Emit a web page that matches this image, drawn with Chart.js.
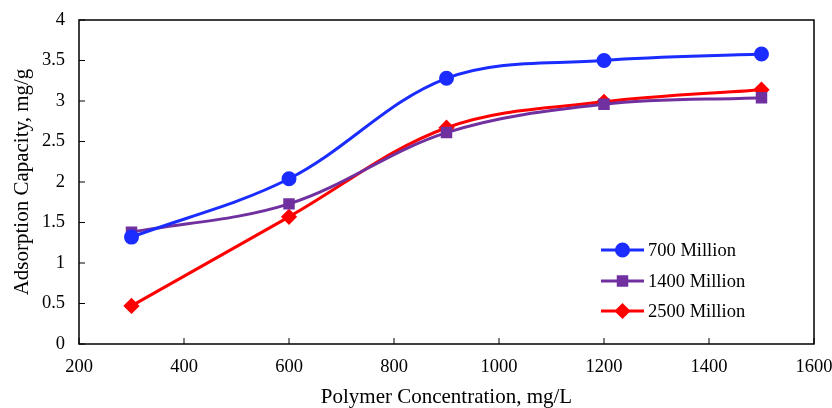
<!DOCTYPE html>
<html>
<head>
<meta charset="utf-8">
<script src="https://cdn.jsdelivr.net/npm/chart.js@4/dist/chart.umd.min.js"></script>
<style>
  html, body { margin: 0; padding: 0; background: #fff; }
  #wrap { width: 832px; height: 408px; }
</style>
</head>
<body>
<div id="wrap"><canvas id="adsChart"></canvas></div>
<script>
// concentrations (mg/L)
const concentrations = [300, 600, 900, 1200, 1500];
// adsorption capacity (mg/g) per polymer molecular weight
const mw700 = [1.32, 2.04, 3.28, 3.50, 3.58];
const mw1400 = [1.38, 1.73, 2.61, 2.96, 3.04];
const mw2500 = [0.47, 1.57, 2.67, 2.99, 3.14];
const seriesNames = ["700 Million", "1400 Million", "2500 Million"];

const FONT = "'Liberation Serif', 'Times New Roman', serif";

function toPoints(ys) {
  return concentrations.map((x, i) => ({ x: x, y: ys[i] }));
}

// box around plot + inward tick marks
const frameAndTicks = {
  id: "frameAndTicks",
  afterDraw(chart) {
    const { ctx, chartArea: a, scales } = chart;
    ctx.save();
    ctx.strokeStyle = "#000";
    ctx.lineWidth = 1.5;
    ctx.strokeRect(a.left, a.top, a.right - a.left, a.bottom - a.top);
    ctx.lineWidth = 1;
    ctx.beginPath();
    scales.x.ticks.forEach((t) => {
      const px = scales.x.getPixelForValue(t.value);
      ctx.moveTo(px, a.bottom);
      ctx.lineTo(px, a.bottom - 6);
    });
    scales.y.ticks.forEach((t) => {
      const py = scales.y.getPixelForValue(t.value);
      ctx.moveTo(a.left, py);
      ctx.lineTo(a.left + 6, py);
    });
    ctx.stroke();
    ctx.restore();
  },
};

// legend drawn inside the plot, lower right
const insideLegend = {
  id: "insideLegend",
  afterDraw(chart) {
    const { ctx } = chart;
    const x0 = 601, x1 = 644, tx = 648;
    const rows = [250, 281, 311];
    ctx.save();
    chart.data.datasets.forEach((ds, i) => {
      const y = rows[i];
      ctx.strokeStyle = ds.borderColor;
      ctx.lineWidth = 3;
      ctx.beginPath();
      ctx.moveTo(x0, y);
      ctx.lineTo(x1, y);
      ctx.stroke();
      Chart.helpers.drawPoint(ctx, {
        pointStyle: ds.pointStyle,
        radius: ds.pointRadius,
        borderWidth: 1,
      }, (x0 + x1) / 2, y);
      ctx.fillStyle = ds.pointBackgroundColor;
      ctx.fill();
      ctx.fillStyle = "#000";
      ctx.font = "18.5px " + FONT;
      ctx.textBaseline = "middle";
      ctx.fillText(ds.label, tx, y + 1);
    });
    ctx.restore();
  },
};

function makeSet(label, ys, color, style, r) {
  return {
    label: label,
    data: toPoints(ys),
    borderColor: color,
    backgroundColor: color,
    pointBackgroundColor: color,
    pointBorderColor: color,
    pointStyle: style,
    pointRadius: r,
    borderWidth: 3,
    tension: 0.35,
  };
}

const plain = (v) => String(v);

window.onload = () => {
  const ctx = document.getElementById("adsChart").getContext("2d");
  new Chart(ctx, {
    type: "line",
    data: {
      datasets: [
        makeSet(seriesNames[0], mw700, "#1a2cff", "circle", 6),
        makeSet(seriesNames[1], mw1400, "#7030a0", "rect", 6),
        makeSet(seriesNames[2], mw2500, "#ff0000", "rectRot", 6),
      ],
    },
    options: {
      responsive: true,
      maintainAspectRatio: false,
      animation: false,
      layout: { padding: { left: 0, right: 18, top: 20, bottom: 0 } },
      plugins: {
        legend: { display: false },
        tooltip: { enabled: false },
      },
      scales: {
        x: {
          type: "linear",
          min: 200,
          max: 1600,
          ticks: { stepSize: 200, callback: plain, color: "#000", font: { family: FONT, size: 18.5 }, padding: 12 },
          grid: { display: false, drawTicks: false },
          border: { display: false },
          title: {
            display: true,
            text: "Polymer Concentration, mg/L",
            color: "#000",
            font: { family: FONT, size: 21 },
            padding: { top: 0, bottom: -2 },
          },
          afterFit(s) {
            s.height = 64;
            s.paddingLeft = 0;
            s.paddingRight = 0;
          },
        },
        y: {
          min: 0,
          max: 4,
          ticks: { stepSize: 0.5, callback: plain, color: "#000", font: { family: FONT, size: 18.5 }, padding: 14 },
          grid: { display: false, drawTicks: false },
          border: { display: false },
          title: {
            display: true,
            text: "Adsorption Capacity, mg/g",
            color: "#000",
            font: { family: FONT, size: 21 },
            padding: { top: 10, bottom: 0 },
          },
          afterFit(s) {
            s.width = 79;
            s.paddingTop = 0;
            s.paddingBottom = 0;
          },
        },
      },
    },
    plugins: [frameAndTicks, insideLegend],
  });
};
</script>
</body>
</html>
